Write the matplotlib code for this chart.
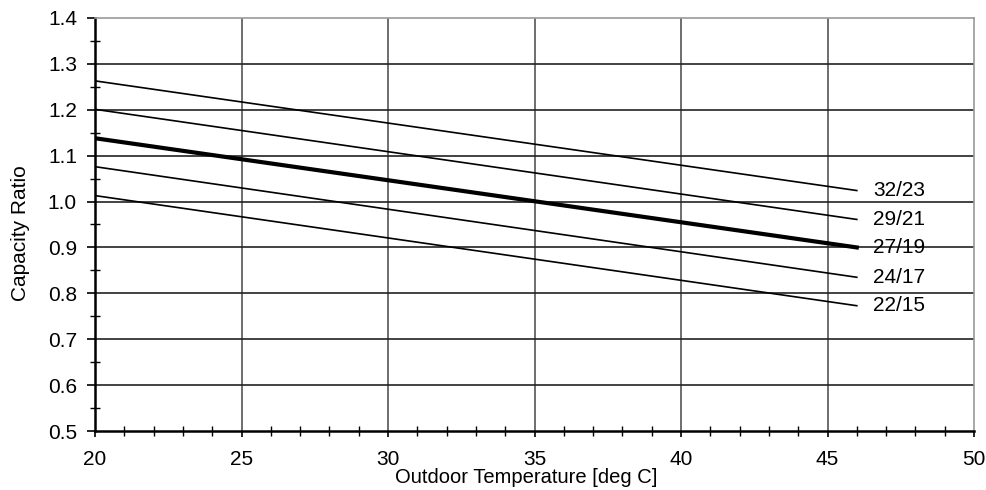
import numpy as np
import matplotlib.pyplot as plt
from matplotlib.ticker import MultipleLocator

# series: value at outdoor temp 20 and 46 deg C
temps = [20, 46]
labels = ['32/23', '29/21', '27/19', '24/17', '22/15']
ratio_32_23 = [1.263, 1.024]
ratio_29_21 = [1.201, 0.961]
ratio_27_19 = [1.138, 0.900]
ratio_24_17 = [1.076, 0.835]
ratio_22_15 = [1.013, 0.773]
series = [ratio_32_23, ratio_29_21, ratio_27_19, ratio_24_17, ratio_22_15]
widths = [1.2, 1.2, 3.0, 1.2, 1.2]

plt.rcParams['font.family'] = ['Liberation Sans', 'DejaVu Sans']

fig = plt.figure(figsize=(9.87, 4.9), dpi=100)
ax = fig.add_axes([95 / 987, 1 - 431 / 490, (974 - 95) / 987, (431 - 18) / 490])

# grid first, then curves on top
for x in range(25, 50, 5):
    ax.axvline(x, color='#555555', lw=1.2, zorder=1)
for y in np.arange(0.6, 1.35, 0.1):
    ax.axhline(y, color='#222222', lw=1.2, zorder=1)

for name, vals, lw in zip(labels, series, widths):
    ax.plot(temps, vals, color='black', lw=lw, zorder=3)
    ax.text(temps[-1] + 0.55, vals[-1], name, fontsize=15, va='center', ha='left', zorder=4)

ax.set_xlim(20, 50)
ax.set_ylim(0.5, 1.4)
ax.xaxis.set_major_locator(MultipleLocator(5))
ax.xaxis.set_minor_locator(MultipleLocator(1))
ax.yaxis.set_major_locator(MultipleLocator(0.1))
ax.yaxis.set_minor_locator(MultipleLocator(0.05))
ax.yaxis.set_major_formatter(plt.FormatStrFormatter('%.1f'))

ax.tick_params(which='major', direction='out', width=1.2, labelsize=15, color='black')
ax.tick_params(axis='y', which='major', length=6, pad=7)
ax.tick_params(axis='x', which='major', length=4.5, pad=9)
ax.tick_params(which='minor', direction='inout', length=7.5, width=1.0, color='black')

ax.spines['left'].set_linewidth(1.8)
ax.spines['bottom'].set_linewidth(1.8)
ax.spines['top'].set_color('#999999')
ax.spines['right'].set_color('#999999')
ax.spines['top'].set_linewidth(1.2)
ax.spines['right'].set_linewidth(1.2)

ax.set_xlabel('Outdoor Temperature [deg C]', fontsize=14.5)
ax.set_ylabel('Capacity Ratio', fontsize=15)
ax.xaxis.set_label_coords(0.491, -0.089)
ax.yaxis.set_label_coords(-0.074, 0.48)

plt.savefig('out.png', dpi=100)
